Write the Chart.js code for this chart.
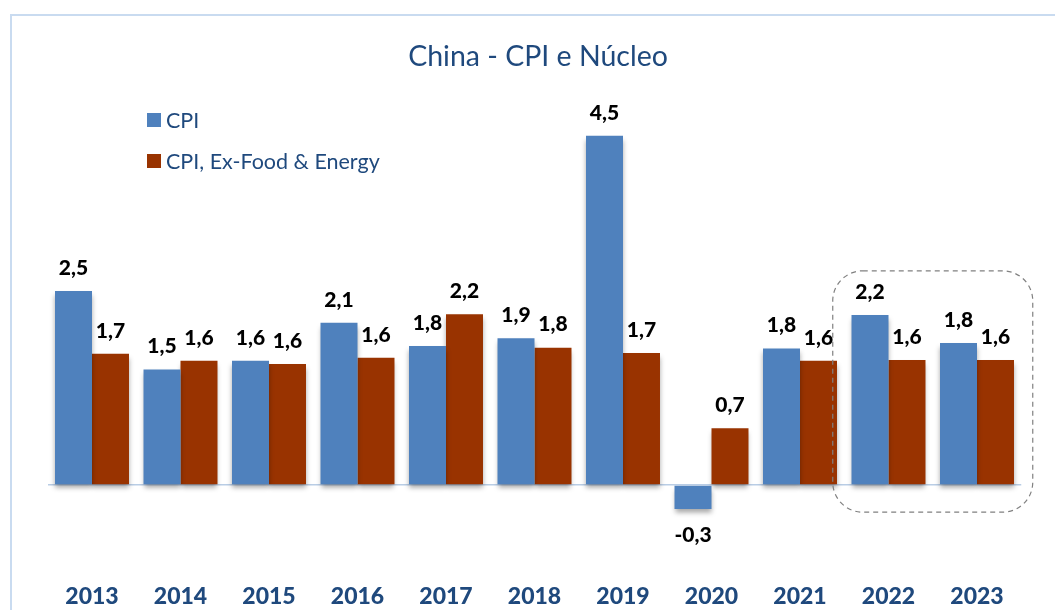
<!DOCTYPE html>
<html lang="pt">
<head>
  <meta charset="UTF-8" />
  <title>China - CPI e Núcleo</title>
  <script src="https://cdn.jsdelivr.net/npm/chart.js"></script>
  <style>
    * { margin: 0; padding: 0; box-sizing: border-box; }
    body { width: 1055px; height: 610px; background: #fff; overflow: hidden; font-family: 'Lato', sans-serif; }
    .wrap { position: relative; width: 1055px; height: 610px; }
    .frame {
      position: absolute; left: 10px; top: 14px; width: 1060px; height: 620px;
      border-left: 2px solid #c9dbf0; border-top: 2px solid #c9dbf0;
    }
    canvas { position: absolute; left: 0; top: 0; }
    .title {
      position: absolute; left: 538px; top: 38px; transform: translateX(-50%);
      font-size: 28.5px; line-height: 34px; color: #1f497d; white-space: nowrap;
    }
    .legend { position: absolute; left: 147px; top: 106px; }
    .legend div { display: flex; align-items: center; height: 28px; margin-bottom: 13px;
      font-size: 21.5px; color: #1f497d; white-space: nowrap; }
    .legend span.box { width: 14px; height: 14px; margin-right: 5px; display: inline-block; flex: none; }
  </style>
</head>
<body>
  <div class="wrap">
    <div class="frame"></div>
    <canvas id="chart" width="1055" height="610"></canvas>
    <div class="title">China - CPI e Núcleo</div>
    <div class="legend" id="legend"></div>
  </div>

  <script>
    const years = ['2013', '2014', '2015', '2016', '2017', '2018', '2019', '2020', '2021', '2022', '2023'];
    const cpi = [2.5, 1.49, 1.6, 2.09, 1.79, 1.89, 4.5, -0.31, 1.76, 2.19, 1.83];
    const core = [1.69, 1.6, 1.56, 1.64, 2.2, 1.77, 1.7, 0.73, 1.6, 1.61, 1.61];
    const seriesNames = ['CPI', 'CPI, Ex-Food & Energy'];
    const seriesColors = ['#4f81bd', '#993300'];
    const highlight = ['2022', '2023'];

    const fmt = v => v.toFixed(1).replace('.', ',');

    // bar shadows like the office chart
    const shadowPlugin = {
      id: 'shadow',
      beforeDatasetsDraw(chart) {
        const ctx = chart.ctx;
        ctx.save();
        ctx.shadowColor = 'rgba(0,0,0,0.35)';
        ctx.shadowBlur = 5;
        ctx.shadowOffsetY = 4;
      },
      afterDatasetsDraw(chart) {
        chart.ctx.restore();
      }
    };

    const labelPlugin = {
      id: 'valueLabels',
      afterDatasetsDraw(chart) {
        const ctx = chart.ctx;
        ctx.save();
        ctx.font = '900 21px Lato';
        ctx.fillStyle = '#000';
        ctx.textAlign = 'center';
        ctx.textBaseline = 'middle';
        chart.data.datasets.forEach((ds, i) => {
          chart.getDatasetMeta(i).data.forEach((bar, j) => {
            const v = ds.data[j];
            const y = v >= 0 ? bar.y - 23 : bar.y + 26;
            ctx.fillText(fmt(v), bar.x, y);
          });
        });
        ctx.restore();
      }
    };

    const boxPlugin = {
      id: 'highlightBox',
      afterDraw(chart) {
        const x = chart.scales.x, y = chart.scales.y;
        const i0 = years.indexOf(highlight[0]), i1 = years.indexOf(highlight[highlight.length - 1]);
        const step = x.getPixelForValue(1) - x.getPixelForValue(0);
        const left = x.getPixelForValue(i0) - step * 0.63;
        const right = x.getPixelForValue(i1) + step * 0.63;
        const top = y.getPixelForValue(2.76);
        const bottom = y.getPixelForValue(-0.35);
        const ctx = chart.ctx;
        ctx.save();
        ctx.strokeStyle = '#808080';
        ctx.lineWidth = 1.2;
        ctx.setLineDash([5, 4]);
        ctx.beginPath();
        ctx.roundRect(left, top, right - left, bottom - top, 30);
        ctx.stroke();
        ctx.restore();
      }
    };

    const chart = new Chart(document.getElementById('chart'), {
      type: 'bar',
      data: {
        labels: years,
        datasets: [
          { label: seriesNames[0], data: cpi, backgroundColor: seriesColors[0] },
          { label: seriesNames[1], data: core, backgroundColor: seriesColors[1] }
        ]
      },
      options: {
        responsive: false,
        animation: false,
        devicePixelRatio: 1,
        categoryPercentage: 0.836,
        barPercentage: 1.0,
        layout: { padding: { left: 47.75, right: 33.75, top: 97, bottom: 0 } },
        plugins: {
          legend: { display: false },
          title: { display: false },
          tooltip: { enabled: false }
        },
        scales: {
          x: {
            grid: { display: false, drawTicks: false },
            border: { display: false },
            ticks: { color: '#1f497d', font: { family: 'Lato', size: 23, weight: '900' }, padding: 20 },
            afterFit(scale) { scale.height = 47.4; }
          },
          y: {
            min: -1, max: 5,
            ticks: { display: false },
            border: { display: false },
            grid: {
              drawTicks: false,
              color: ctx => ctx.tick.value === 0 ? '#b9cde5' : 'transparent',
              lineWidth: 1.5
            }
          }
        }
      },
      plugins: [shadowPlugin, labelPlugin, boxPlugin]
    });

    const legend = document.getElementById('legend');
    chart.data.datasets.forEach(ds => {
      const row = document.createElement('div');
      row.innerHTML = '<span class="box" style="background:' + ds.backgroundColor + '"></span>' + ds.label;
      legend.appendChild(row);
    });
  </script>
</body>
</html>
